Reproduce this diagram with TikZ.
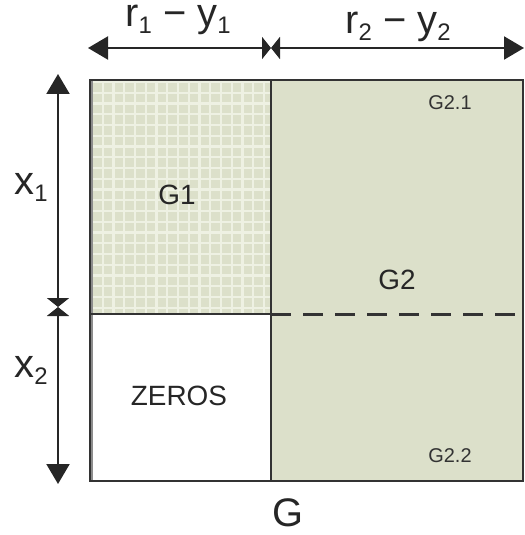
\documentclass[tikz,border=0pt]{standalone}
\usepackage{fontspec}
\setmainfont{Liberation Sans}
\usetikzlibrary{arrows.meta}
\definecolor{gfill}{HTML}{DCE0CA}
\definecolor{gline}{HTML}{EEF1E3}
\definecolor{edgec}{HTML}{333333}
\newcommand{\mysub}[1]{\raisebox{-7bp}{\fontsize{24}{24}\selectfont #1}}
\tikzset{
  big/.style={font=\fontsize{40}{40}\selectfont, text=black!85, inner sep=0pt, anchor=base},
  mid/.style={font=\fontsize{28}{28}\selectfont, text=black!85, inner sep=0pt, anchor=base},
  small/.style={font=\fontsize{20}{20}\selectfont, text=black!80, inner sep=0pt, anchor=base},
  tipend/.tip={Triangle[length=20bp,width=23bp]},
  tipmid/.tip={Triangle[length=9bp,width=22bp]},
  dimline/.style={line width=2.2bp, black!85},
  edge/.style={line width=2bp, edgec},
}
\begin{document}
\begin{tikzpicture}[x=1bp,y=-1bp]
\useasboundingbox (0,0) rectangle (525,535);
% corner coordinates
\coordinate (TL) at (90,80);
\coordinate (TR) at (523,80);
\coordinate (BL) at (90,481);
\coordinate (BR) at (523,481);
\coordinate (MT) at (271,80);
\coordinate (MB) at (271,481);
\coordinate (ML) at (90,314);
\coordinate (MM) at (271,314);
\coordinate (MR) at (523,314);
% fills
\fill[gfill] (MT) rectangle (BR);
\fill[gfill] (TL) rectangle (MM);
\begin{scope}
\clip (TL) rectangle (MM);
\foreach \i in {0,...,17} {
  \draw[gline, line width=2.4bp] (90+2+\i*10.75,80) -- (90+2+\i*10.75,314);
}
\foreach \j in {0,...,22} {
  \draw[gline, line width=2.4bp] (90,80+2+\j*10.75) -- (271,80+2+\j*10.75);
}
\end{scope}
% outline
\draw[line width=3bp, black!45] (91,80) -- (91,481);
\draw[edge] (TL) rectangle (BR);
\draw[edge] (MT) -- (MB);
\draw[edge] (ML) -- (MM);
\draw[edge, line width=3bp, dash pattern=on 20bp off 12bp] (MM) -- (MR);
% dimension arrows
\coordinate (hA) at (88,48);
\coordinate (hB) at (271,48);
\coordinate (hC) at (524,48);
\coordinate (vA) at (58,74);
\coordinate (vB) at (58,307);
\coordinate (vC) at (58,484);
\draw[dimline, {tipend}-{tipmid}] (hA) -- (hB);
\draw[dimline, {tipmid}-{tipend}] (hB) -- (hC);
\draw[dimline, {tipend}-{tipmid}] (vA) -- (vB);
\draw[dimline, {tipmid}-{tipend}] (vB) -- (vC);
% labels
\node[big, text height=21bp] (r1) at (178,27) {r\mysub{1} − y\mysub{1}};
\node[big] (r2) at (398,34) {r\mysub{2} − y\mysub{2}};
\node[big] (x1) at (31,195) {x\mysub{1}};
\node[big] (x2) at (31,377) {x\mysub{2}};
\node[big] (G) at (288,526) {G};
\node[mid] (G1) at (177,205) {G1};
\node[mid] (G2) at (397,289) {G2};
\node[mid] (Z) at (179,405) {ZEROS};
\node[small] (G21) at (450,110) {G2.1};
\node[small] (G22) at (450,462) {G2.2};
\end{tikzpicture}
\end{document}
